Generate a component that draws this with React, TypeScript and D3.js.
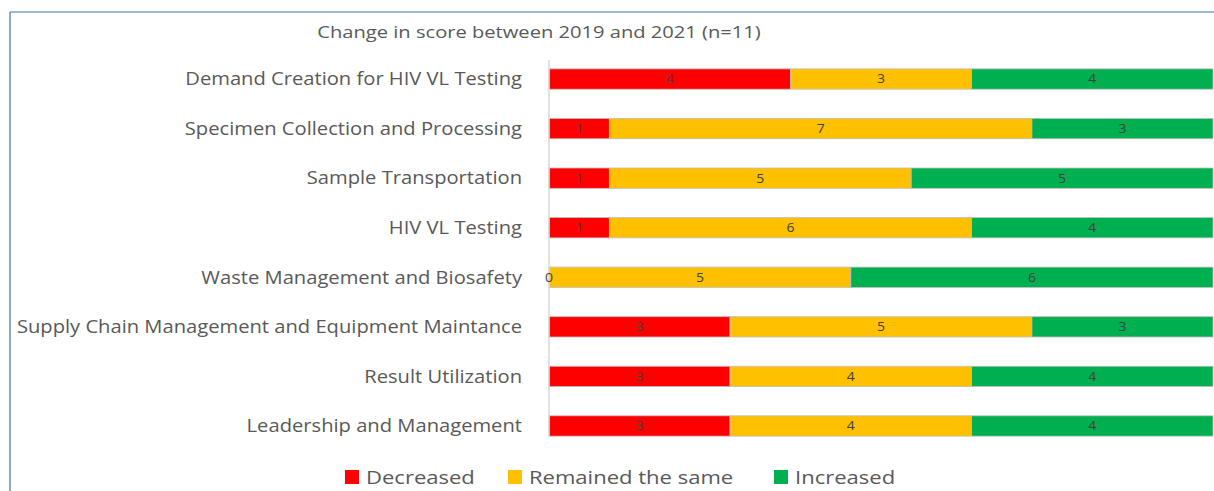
import React from 'react';
import * as d3 from 'd3';

const categories = [
  'Demand Creation for HIV VL Testing',
  'Specimen Collection and Processing',
  'Sample Transportation',
  'HIV VL Testing',
  'Waste Management and Biosafety',
  'Supply Chain Management and Equipment Maintance',
  'Result Utilization',
  'Leadership and Management',
];
const decreased = [4, 1, 1, 1, 0, 3, 3, 3];
const remained = [3, 7, 5, 6, 5, 5, 4, 4];
const increased = [4, 3, 5, 4, 6, 3, 4, 4];

const seriesNames = ['Decreased', 'Remained the same', 'Increased'];
const seriesColors = ['#ff0000', '#ffc000', '#00b050'];
const title = 'Change in score between 2019 and 2021 (n=11)';

// the source image is a bit stretched sideways, so text gets a small x-scale
const App: React.FC = () => {
  const width = 1214;
  const height = 491;
  const font = '"Open Sans", "DejaVu Sans", sans-serif';

  const xScale = d3.scaleLinear().domain([0, 11]).range([549, 1213]);
  const yScale = d3.scaleBand<string>().domain(categories).range([54, 451]).paddingInner(0.59).paddingOuter(0.3);
  const h = yScale.bandwidth();

  const rows = categories.map((c, i) => {
    const vals = [decreased[i], remained[i], increased[i]];
    let acc = 0;
    const segs = vals.map((v, k) => {
      const s = { key: k, x0: acc, x1: acc + v, v };
      acc += v;
      return s;
    });
    return { c, y: yScale(c)!, segs };
  });

  const legendX = [345, 508, 774];

  return (
    <svg width={width} height={height} style={{ position: 'absolute', left: 0, top: 0, background: '#fff' }} fontFamily={font}>
      <line x1={10} y1={12} x2={width} y2={12} stroke="#41719c" strokeWidth={1.2} />
      <line x1={10} y1={12} x2={10} y2={height} stroke="#41719c" strokeWidth={1.2} />

      <g transform="translate(539, 38) scale(1.22, 1)">
        <text textAnchor="middle" fontSize={16.5} fill="#595959">{title}</text>
      </g>

      {rows.map(r => (
        <g key={r.c}>
          <g transform={`translate(522, ${r.y + h / 2}) scale(1.12, 1)`}>
            <text dy="0.35em" textAnchor="end" fontSize={18} fill="#595959">{r.c}</text>
          </g>
          {r.segs.filter(s => s.v > 0).map(s => (
            <rect key={s.key} x={xScale(s.x0)} y={r.y} width={xScale(s.x1) - xScale(s.x0)} height={h}
              fill={seriesColors[s.key]} stroke="#bfbfbf" strokeWidth={0.8} />
          ))}
        </g>
      ))}

      <line x1={xScale(0)} y1={60} x2={xScale(0)} y2={436} stroke="#d9d9d9" strokeWidth={1.5} />

      {rows.map(r => r.segs.map(s => (
        <g key={`${r.c}-${s.key}`} transform={`translate(${(xScale(s.x0) + xScale(s.x1)) / 2}, ${r.y + h / 2}) scale(1.12, 1)`}>
          <text dy="0.35em" textAnchor="middle" fontSize={12.5} fill="#404040">{s.v}</text>
        </g>
      )))}

      {seriesNames.map((n, i) => (
        <g key={n}>
          <rect x={legendX[i]} y={470} width={14} height={14} fill={seriesColors[i]} />
          <g transform={`translate(${legendX[i] + 21}, 477) scale(1.16, 1)`}>
            <text dy="0.35em" fontSize={19} fill="#595959">{n}</text>
          </g>
        </g>
      ))}
    </svg>
  );
};

export default App;
